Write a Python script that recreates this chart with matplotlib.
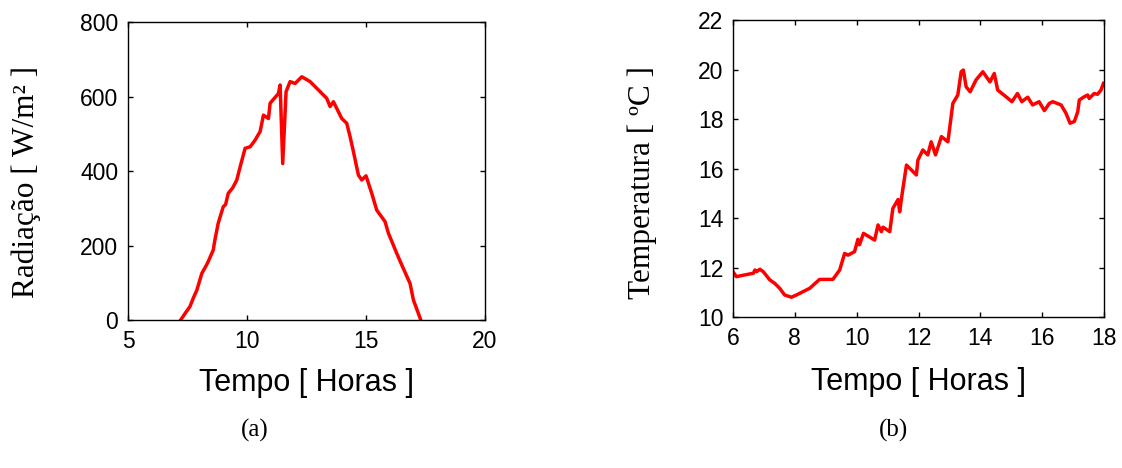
import matplotlib
matplotlib.use("Agg")
import matplotlib.pyplot as plt

# Radiation data (hours, W/m²)
rad_t = [7.21, 7.4, 7.6, 7.75, 7.89, 8.1, 8.3, 8.37, 8.58, 8.65, 8.79, 9.0, 9.1, 9.21, 9.4, 9.57,
         9.71, 9.92, 10.13, 10.34, 10.55, 10.69, 10.9, 10.97, 11.32, 11.39, 11.5, 11.64, 11.81,
         12.02, 12.3, 12.65, 13.07, 13.35, 13.49, 13.63, 13.98, 14.19, 14.33, 14.47, 14.68,
         14.82, 15.0, 15.24, 15.45, 15.8, 15.94, 16.29, 16.5, 16.85, 16.99, 17.3]
rad_v = [0, 18, 36, 60, 80, 125, 148, 157, 188, 215, 260, 304, 310, 340, 355, 376,
         411, 461, 465, 483, 506, 550, 541, 582, 608, 631, 420, 613, 640,
         635, 653, 640, 613, 595, 573, 586, 541, 528, 492, 452, 389,
         376, 387, 340, 295, 264, 233, 179, 148, 98, 54, 0]

# Temperature data (hours, °C)
temp_t = [6.0, 6.11, 6.22, 6.66, 6.71, 6.76, 6.87, 6.98, 7.19, 7.35, 7.51, 7.67, 7.89, 8.05,
          8.48, 8.8, 9.23, 9.45, 9.61, 9.72, 9.93, 10.04, 10.09, 10.22, 10.58, 10.69, 10.8,
          10.85, 11.07, 11.17, 11.34, 11.39, 11.48, 11.61, 11.93, 11.98, 12.14, 12.3, 12.41,
          12.55, 12.74, 12.95, 13.11, 13.27, 13.38, 13.45, 13.54, 13.67, 13.86, 14.08, 14.31,
          14.45, 14.56, 14.83, 15.02, 15.2, 15.34, 15.53, 15.69, 15.9, 16.07, 16.23, 16.34,
          16.61, 16.77, 16.9, 17.04, 17.15, 17.2, 17.36, 17.47, 17.52, 17.68, 17.79, 17.9, 17.98]
temp_v = [11.83, 11.63, 11.66, 11.77, 11.9, 11.83, 11.93, 11.83, 11.5, 11.36, 11.16, 10.89, 10.8, 10.89,
          11.16, 11.52, 11.52, 11.9, 12.57, 12.5, 12.64, 13.14, 12.92, 13.38, 13.11, 13.72, 13.45,
          13.63, 13.45, 14.39, 14.75, 14.25, 15.06, 16.14, 15.74, 16.34, 16.75, 16.55, 17.08,
          16.55, 17.29, 17.08, 18.63, 18.97, 19.91, 19.98, 19.3, 19.1, 19.58, 19.91, 19.5,
          19.84, 19.17, 18.9, 18.7, 19.03, 18.7, 18.88, 18.57, 18.7, 18.34, 18.63, 18.7,
          18.57, 18.23, 17.83, 17.9, 18.3, 18.77, 18.9, 18.97, 18.83, 19.03, 19.0, 19.17, 19.44]

rad_xticks = [5, 10, 15, 20]
rad_yticks = [0, 200, 400, 600, 800]
temp_xticks = [6, 8, 10, 12, 14, 16, 18]
temp_yticks = [10, 12, 14, 16, 18, 20, 22]

SANS = "Liberation Sans"
SERIF = "Liberation Serif"

fig = plt.figure(figsize=(11.22, 4.68), dpi=100)
ax1 = fig.add_axes([0.1141, 0.3162, 0.3182, 0.6368])
ax2 = fig.add_axes([0.6533, 0.3226, 0.3307, 0.6346])


def style(ax):
    for s in ax.spines.values():
        s.set_linewidth(1.0)
        s.set_color("black")
    ax.tick_params(direction="in", length=3.5, width=1.0, top=True, right=True,
                   labelsize=16.5, pad=7, colors="black")
    for lab in ax.get_xticklabels() + ax.get_yticklabels():
        lab.set_fontfamily(SANS)


ax1.plot(rad_t, rad_v, color="#ff0000", linewidth=2.5, solid_joinstyle="round")
ax1.set_xlim(5, 20)
ax1.set_ylim(0, 800)
ax1.set_xticks(rad_xticks)
ax1.set_yticks(rad_yticks)
style(ax1)
ax1.set_xlabel("Tempo [ Horas ]", fontsize=22, fontfamily=SANS, va="center")
ax1.xaxis.set_label_coords(0.5, -0.21)
ax1.set_ylabel("Radiação [ W/m² ]", fontsize=22.5, fontfamily=SERIF, va="center")
ax1.yaxis.set_label_coords(-0.285, 0.463)

ax2.plot(temp_t, temp_v, color="#ff0000", linewidth=2.5, solid_joinstyle="round")
ax2.set_xlim(6, 18)
ax2.set_ylim(10, 22)
ax2.set_xticks(temp_xticks)
ax2.set_yticks(temp_yticks)
style(ax2)
ax2.set_xlabel("Tempo [ Horas ]", fontsize=22, fontfamily=SANS, va="center")
ax2.xaxis.set_label_coords(0.5, -0.22)
ax2.set_ylabel("Temperatura [ ºC ]", fontsize=22.5, fontfamily=SERIF, va="center")
ax2.yaxis.set_label_coords(-0.245, 0.4545)

fig.text(255 / 1122, 1 - 430 / 468, "(a)", fontsize=18, fontfamily=SERIF, ha="center", va="center")
fig.text(893 / 1122, 1 - 430 / 468, "(b)", fontsize=18, fontfamily=SERIF, ha="center", va="center")

fig.savefig("out.png", dpi=100)
